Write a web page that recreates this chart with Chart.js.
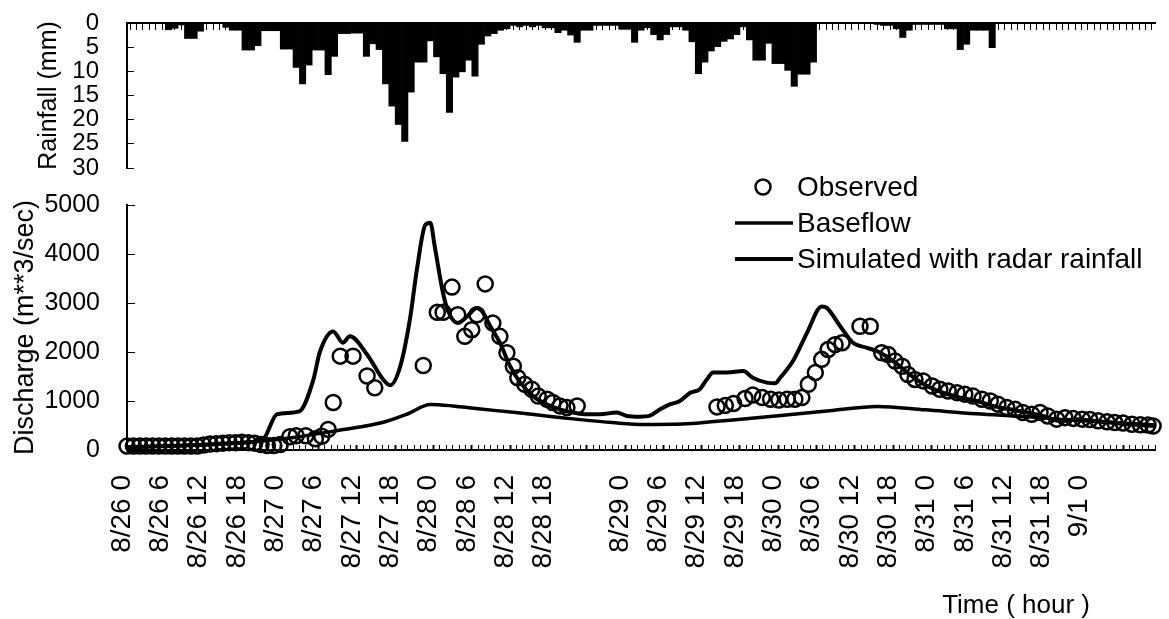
<!DOCTYPE html>
<html>
<head>
<meta charset="utf-8">
<title>Rainfall and discharge</title>
<script src="https://cdn.jsdelivr.net/npm/chart.js@4.4.1/dist/chart.umd.min.js"></script>
<style>
  body { margin: 0; background: #fff; }
  #wrap { position: relative; width: 1169px; height: 619px; }
  #wrap canvas { position: absolute; left: 0; top: 0; }
</style>
</head>
<body>
<div id="wrap">
  <canvas id="rain-chart" width="1169" height="619"></canvas>
  <canvas id="flow-chart" width="1169" height="619"></canvas>
</div>
<script>
// hourly rainfall (mm), hour 0 = 8/26 0:00
const rainfall = [
  0, 0, 0, 0, 0, 0, 1.4, 1.1, 0.4, 3.2,
  3.2, 1.7, 0, 0, 0, 0.9, 1.5, 1.5, 5.6, 5.6,
  4.7, 1.6, 1.6, 1.6, 5.4, 5.4, 9.2, 12.6, 8.7, 5.6,
  5.6, 10.7, 6.9, 2.2, 2.2, 2.1, 2.1, 6.9, 4.3, 5.5,
  12.6, 17.2, 21, 24.5, 14.3, 8.1, 8.1, 3.7, 7.0, 10.5,
  18.5, 11.2, 10.1, 7.7, 11.0, 4.4, 2.7, 2.2, 1.5, 1.2,
  0.5, 0.8, 0.5, 0.8, 0.5, 1.0, 1.0, 2.0, 1.5, 2.5,
  4.0, 1.5, 1.5, 0.5, 0.5, 0.5, 0.5, 1.3, 1.3, 4.0,
  1.5, 1.0, 2.4, 3.5, 2.4, 0.8, 0.8, 1.5, 3.9, 10.5,
  8.1, 5.8, 4.9, 3.8, 3.3, 2.4, 0.8, 3.5, 7.7, 7.7,
  4.2, 8.4, 8.4, 9.8, 13.1, 10.6, 10.6, 8.1, 0, 0,
  0, 0, 0, 0, 0, 0, 0, 0.3, 0.5, 0.5,
  1.2, 3.0, 1.5, 0.3, 0.3, 0.3, 0.3, 0.3, 1.2, 1.2,
  5.5, 4.4, 1.5, 1.5, 1.5, 5.1, 0, 0, 0, 0,
  0, 0, 0, 0, 0, 0, 0, 0, 0, 0,
  0, 0, 0, 0, 0, 0, 0, 0, 0, 0,
  0
];

// observed discharge (m3/s)
const obsHour = [
  0, 1, 2, 3, 4, 5, 6, 7, 8, 9, 10, 11,
  12, 13, 14, 15, 16, 17, 18, 19, 20, 21, 22, 23, 24,
  25.5, 26.5, 28, 29.5, 30.5, 31.5, 32.3, 33.4, 35.4, 37.6, 38.8,
  46.4, 48.6, 49.5, 50.9, 51.8, 52.9, 54.0, 54.8, 56.1, 57.3, 58.4, 59.5,
  60.5, 61.2, 62.3, 63.4, 64.4, 65.8, 66.7, 67.8, 68.9, 70.5,
  92.4, 93.7, 95.0, 96.8, 98.0, 99.5, 100.8, 102.1, 103.4, 104.6, 105.7,
  106.7, 107.8, 108.8, 109.8, 110.9, 112.0, 114.8, 116.4, 118.2, 119.2,
  120.3, 121.4, 122.3, 123.4, 124.7, 126.1, 127.3, 128.6, 130.0, 131.2,
  132.5, 133.9, 135.2, 136.4, 137.8, 139.1, 140.3, 141.7, 143.0, 144.2,
  145.6, 146.9, 148.2, 149.6, 150.8, 152.1, 153.5, 154.7, 156.0, 157.4,
  158.7, 159.9, 160.7
];
const obsFlow = [
  80, 80, 80, 80, 80, 80, 80, 80, 80, 80, 80, 80,
  100, 120, 130, 140, 150, 150, 160, 150, 140, 110, 90, 90, 110,
  270, 290, 290, 230, 280, 420, 970, 1915, 1915, 1510, 1270,
  1725, 2810, 2810, 3325, 2760, 2320, 2455, 2760, 3390, 2590, 2320, 1985,
  1710, 1475, 1340, 1240, 1100, 1035, 970, 900, 865, 900,
  880, 910, 950, 1050, 1120, 1070, 1035, 1020, 1035, 1035, 1070,
  1340, 1580, 1850, 2050, 2150, 2190, 2525, 2525, 1985, 1950,
  1815, 1710, 1540, 1440, 1410, 1305, 1240, 1205, 1170, 1140,
  1100, 1035, 1000, 935, 865, 830, 765, 730, 765, 695,
  630, 660, 645, 630, 620, 595, 575, 560, 550, 525,
  515, 510, 490
];

// baseflow (m3/s)
const baseHour = [0, 11, 21, 27, 33, 40, 44, 47.5, 51, 55, 60.5, 66, 71, 76, 81, 87, 92, 97, 102, 110, 117.5, 125, 133, 141, 149, 161];
const baseFlow = [60, 100, 180, 270, 400, 560, 740, 930, 900, 840, 770, 690, 620, 560, 520, 530, 580, 640, 700, 800, 890, 820, 740, 680, 600, 510];

// simulated with radar rainfall (m3/s)
const simHour = [
  0, 11, 18, 21.3, 23.5, 27, 29.2, 30.2, 32.3, 33.8, 34.9, 37.6, 40.1, 41.2, 42.8,
  44.3, 45.4, 46.7, 47.5, 48.2, 49.5, 50.3, 51.8, 53.3, 54.8, 55.6, 56.9, 58.4,
  60.0, 61.6, 63.6, 65.8, 67.8, 69.9, 72.0, 74.1, 76.7, 78.3, 80.3, 81.9, 83.5,
  85.0, 86.6, 88.2, 89.7, 90.8, 91.8, 94.0, 96.5, 98.0, 100.2, 101.5, 102.3, 104.3,
  106.5, 108.8, 109.6, 111.7, 113.7, 115.9, 117.5, 120.0, 122.6, 125.3, 127.8,
  130.5, 133.1, 135.6, 138.3, 141.0, 143.5, 146.1, 148.8, 151.3, 154.0, 156.6, 161
];
const simFlow = [
  60, 100, 150, 220, 730, 790, 1440, 2000, 2420, 2190, 2320, 1950, 1440, 1320, 1710,
  2660, 3680, 4590, 4640, 4150, 3200, 2830, 2590, 2730, 2900, 2830, 2525, 2190,
  1710, 1375, 1100, 930, 830, 765, 730, 730, 765, 695, 680, 700, 830,
  930, 1000, 1170, 1240, 1440, 1580, 1580, 1610, 1475, 1375, 1360, 1475, 1815,
  2390, 2930, 2900, 2525, 2190, 2085, 2015, 1815, 1540, 1305, 1170,
  1070, 1000, 900, 830, 765, 695, 595, 630, 595, 560, 525, 490
];

// x tick labels, one every 6 hours
const tickLabels = [
  '8/26 0', '8/26 6', '8/26 12', '8/26 18',
  '8/27 0', '8/27 6', '8/27 12', '8/27 18',
  '8/28 0', '8/28 6', '8/28 12', '8/28 18', '',
  '8/29 0', '8/29 6', '8/29 12', '8/29 18',
  '8/30 0', '8/30 6', '8/30 12', '8/30 18',
  '8/31 0', '8/31 6', '8/31 12', '8/31 18',
  '9/1 0'
];

const hourCount = 161;
const FONT = '"Liberation Sans", Arial, sans-serif';

Chart.defaults.font.family = FONT;
Chart.defaults.color = '#000';

const toPoints = (xs, ys) => xs.map((x, i) => ({ x, y: ys[i] }));

// keep the plot box fixed: no extra room for edge labels
function fixWidth(w) {
  return s => { s.width = w; s.paddingTop = 0; s.paddingBottom = 0; };
}
function fixHeight(h) {
  return s => { s.height = h; s.paddingLeft = 0; s.paddingRight = 0; };
}

// legend drawn inside the plot, like the original figure
const insideLegend = {
  id: 'insideLegend',
  afterDatasetsDraw(chart) {
    const ctx = chart.ctx;
    ctx.save();
    ctx.font = '28px ' + FONT;
    ctx.textBaseline = 'middle';
    ctx.fillStyle = '#000';
    ctx.strokeStyle = '#000';
    chart.data.datasets.forEach((ds, i) => {
      const y = 187 + i * 36;
      if (ds.showLine === false) {
        ctx.lineWidth = 2.5;
        ctx.beginPath();
        ctx.arc(763, y, 7.5, 0, Math.PI * 2);
        ctx.stroke();
      } else {
        ctx.lineWidth = ds.borderWidth;
        ctx.beginPath();
        ctx.moveTo(735, y);
        ctx.lineTo(793, y);
        ctx.stroke();
      }
      ctx.fillText(ds.label, 797, y + 1);
    });
    ctx.restore();
  }
};

const rainChart = new Chart(document.getElementById('rain-chart'), {
  type: 'bar',
  data: {
    datasets: [{
      label: 'Rainfall',
      data: rainfall.map((v, i) => ({ x: i + 0.5, y: v })),
      backgroundColor: '#000',
      borderWidth: 0,
      barPercentage: 1,
      categoryPercentage: 1
    }]
  },
  options: {
    responsive: false,
    animation: false,
    events: [],
    layout: { padding: { top: 23, right: 14, bottom: 451, left: 0 } },
    plugins: { legend: { display: false }, tooltip: { enabled: false } },
    scales: {
      x: {
        type: 'linear',
        position: 'top',
        offset: false,
        min: 0,
        max: hourCount,
        ticks: { display: false, stepSize: 1 },
        grid: { drawOnChartArea: false, tickLength: -7, tickColor: '#000', tickWidth: 1 },
        border: { color: '#000', width: 2 },
        afterFit: fixHeight(0)
      },
      y: {
        reverse: true,
        min: 0,
        max: 30,
        ticks: { stepSize: 5, autoSkip: false, padding: 35, font: { size: 24 }, callback: v => v },
        grid: { drawOnChartArea: false, tickLength: -7, tickColor: '#000' },
        border: { color: '#000', width: 2 },
        title: { display: true, text: 'Rainfall (mm)', font: { size: 25 }, padding: { top: 34, bottom: 0 } },
        afterFit: fixWidth(127)
      }
    }
  }
});

const flowChart = new Chart(document.getElementById('flow-chart'), {
  type: 'line',
  data: {
    datasets: [{
      label: 'Observed',
      data: toPoints(obsHour, obsFlow),
      showLine: false,
      pointRadius: 7.5,
      pointBorderWidth: 2.5,
      pointBorderColor: '#000',
      pointBackgroundColor: 'rgba(0,0,0,0)',
      clip: false
    }, {
      label: 'Baseflow',
      data: toPoints(baseHour, baseFlow),
      borderColor: '#000',
      borderWidth: 3.5,
      pointRadius: 0,
      cubicInterpolationMode: 'monotone'
    }, {
      label: 'Simulated with radar rainfall',
      data: toPoints(simHour, simFlow),
      borderColor: '#000',
      borderWidth: 4,
      pointRadius: 0,
      cubicInterpolationMode: 'monotone'
    }]
  },
  options: {
    responsive: false,
    animation: false,
    events: [],
    layout: { padding: { top: 205, right: 14, bottom: 0, left: 0 } },
    plugins: { legend: { display: false }, tooltip: { enabled: false } },
    scales: {
      x: {
        type: 'linear',
        min: 0,
        max: hourCount,
        ticks: {
          stepSize: 1,
          autoSkip: false,
          minRotation: 90,
          maxRotation: 90,
          padding: 30,
          labelOffset: -5,
          font: { size: 28 },
          callback: v => (v % 6 === 0 ? (tickLabels[v / 6] || '') : '')
        },
        grid: {
          drawOnChartArea: false,
          tickLength: -5,
          tickColor: '#000',
          tickWidth: c => (c.tick && c.tick.value % 6 === 0 ? 2 : 1)
        },
        border: { color: '#000', width: 2 },
        title: {
          display: true,
          text: 'Time ( hour )         ',
          align: 'end',
          font: { size: 26, lineHeight: 1 },
          padding: 0
        },
        afterFit: fixHeight(169)
      },
      y: {
        min: 0,
        max: 5000,
        ticks: { stepSize: 1000, padding: 35, font: { size: 25 }, callback: v => v },
        grid: { drawOnChartArea: false, tickLength: -8, tickColor: '#000' },
        border: { color: '#000', width: 2 },
        title: { display: true, text: 'Discharge (m**3/sec)', font: { size: 27 }, padding: { top: 9, bottom: 0 } },
        afterFit: fixWidth(127)
      }
    }
  },
  plugins: [insideLegend]
});
</script>
</body>
</html>
